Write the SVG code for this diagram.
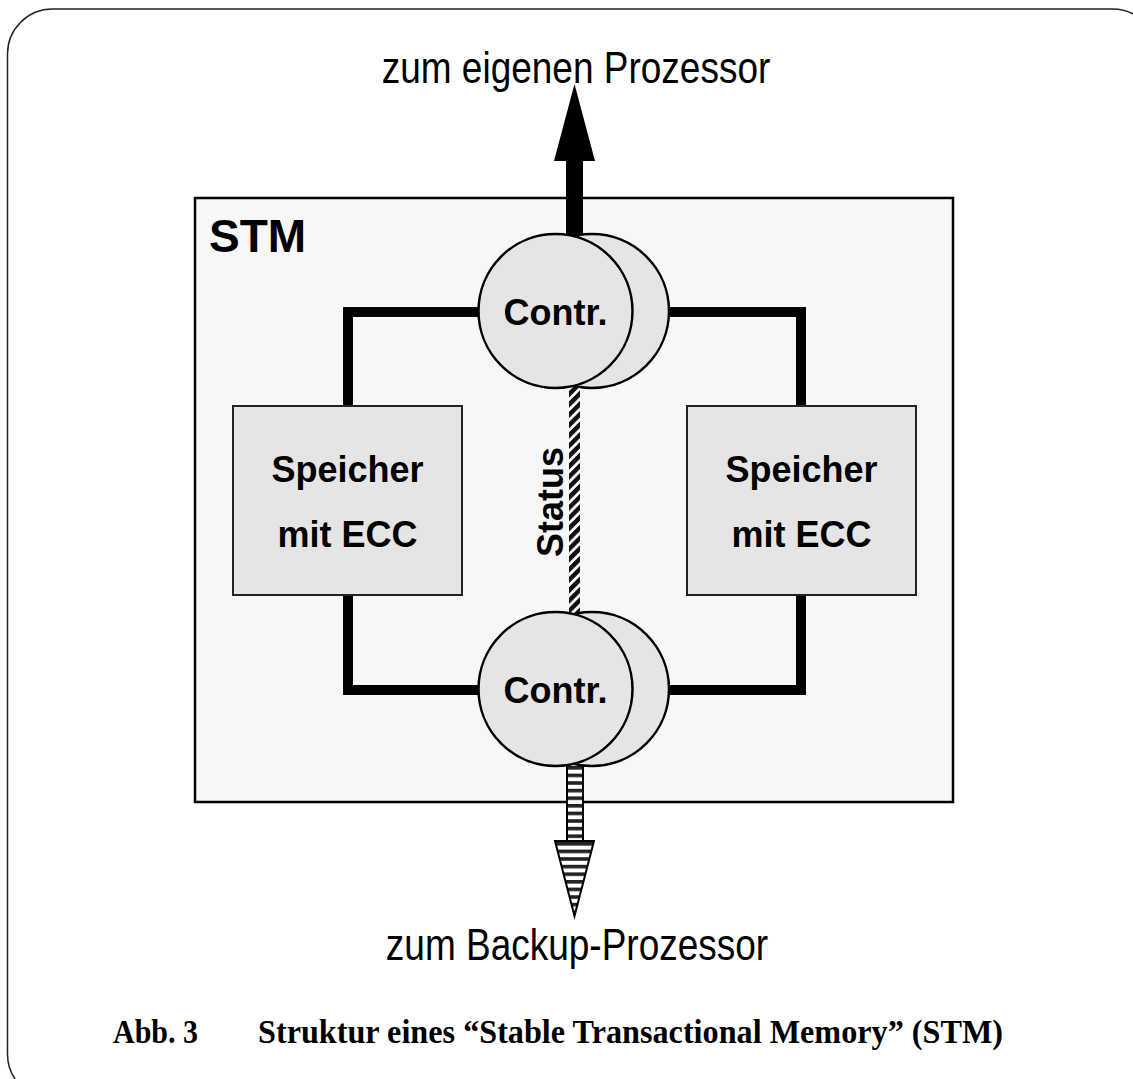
<svg xmlns="http://www.w3.org/2000/svg" width="1133" height="1079" viewBox="0 0 1133 1079">
  <style>
    .lbl { font-family: "Liberation Sans", Arial, sans-serif; font-size: 37px; fill: #000; text-anchor: middle; }
    .bold { font-family: "Liberation Sans", Arial, sans-serif; font-weight: bold; fill: #000; text-anchor: middle; }
    .cap { font-family: "Liberation Serif", "Times New Roman", serif; font-weight: bold; font-size: 33px; fill: #000; }
    .mem { fill: #e5e5e5; stroke: #222; stroke-width: 2; }
    .ctr { fill: #e5e5e5; stroke: #000; stroke-width: 2.5; }
    .wire { fill: none; stroke: #000; stroke-width: 10; stroke-linejoin: miter; stroke-linecap: butt; }
  </style>
  <defs>
    <pattern id="diag" patternUnits="userSpaceOnUse" width="7.3" height="7.3" patternTransform="rotate(45)">
      <rect x="0" y="0" width="7.3" height="7.3" fill="#fff"/>
      <rect x="0" y="0" width="4.5" height="7.3" fill="#111"/>
    </pattern>
    <pattern id="hstripe" patternUnits="userSpaceOnUse" x="0" y="766" width="10" height="7.6">
      <rect x="0" y="0" width="10" height="7.6" fill="#fff"/>
      <rect x="0" y="0" width="10" height="3.6" fill="#222"/>
    </pattern>
  </defs>

  <rect id="frame" x="7.5" y="9" width="1150" height="1090" rx="45" ry="45" fill="#fff" stroke="#222" stroke-width="1.5"/>

  <g id="stm">
    <rect x="195" y="198" width="758" height="604" fill="#f7f7f7" stroke="#000" stroke-width="2.5"/>
    <text class="bold" x="209" y="252" font-size="46" style="text-anchor:start">STM</text>
  </g>

  <g id="connectors">
    <path class="wire" d="M 500 312 H 348 V 410"/>
    <path class="wire" d="M 348 590 V 690 H 500"/>
    <path class="wire" d="M 650 312 H 801 V 410"/>
    <path class="wire" d="M 801 590 V 690 H 650"/>
    <rect id="status-line" x="569" y="380" width="11" height="240" fill="url(#diag)"/>
    <g id="arrow-up">
      <rect x="566" y="158" width="17" height="90" fill="#000"/>
      <polygon points="554,161 595,161 574.5,84" fill="#000"/>
    </g>
    <g id="arrow-down">
      <rect x="567" y="755" width="16" height="86" fill="url(#hstripe)" stroke="#000" stroke-width="2"/>
      <polygon points="555,841 594,841 574.5,916" fill="url(#hstripe)" stroke="#000" stroke-width="2" stroke-linejoin="miter"/>
    </g>
  </g>

  <g id="mem-left">
    <rect class="mem" x="233" y="406" width="229" height="189"/>
    <text class="bold" x="347.5" y="482" font-size="36">Speicher</text>
    <text class="bold" x="347.5" y="547" font-size="36">mit ECC</text>
  </g>

  <g id="mem-right">
    <rect class="mem" x="687" y="406" width="229" height="189"/>
    <text class="bold" x="801.5" y="482" font-size="36">Speicher</text>
    <text class="bold" x="801.5" y="547" font-size="36">mit ECC</text>
  </g>

  <g id="status-label">
    <text class="bold" font-size="36" transform="translate(563,502) rotate(-90)">Status</text>
  </g>

  <g id="ctrl-top">
    <circle class="ctr" cx="592" cy="311" r="77"/>
    <circle class="ctr" cx="555.5" cy="311" r="77"/>
    <text class="bold" x="555.5" y="325" font-size="36">Contr.</text>
  </g>

  <g id="ctrl-bottom">
    <circle class="ctr" cx="592" cy="689" r="77"/>
    <circle class="ctr" cx="555.5" cy="689" r="77"/>
    <text class="bold" x="555.5" y="703" font-size="36">Contr.</text>
  </g>

  <text id="label-top" class="lbl" transform="translate(576,83) scale(1,1.18)">zum eigenen Prozessor</text>
  <text id="label-bottom" class="lbl" transform="translate(577,960) scale(1,1.18)">zum Backup-Prozessor</text>

  <g id="caption">
    <text class="cap" x="113" y="1043" textLength="85" lengthAdjust="spacingAndGlyphs">Abb. 3</text>
    <text class="cap" x="258" y="1043" textLength="745" lengthAdjust="spacingAndGlyphs">Struktur eines “Stable Transactional Memory” (STM)</text>
  </g>
</svg>
